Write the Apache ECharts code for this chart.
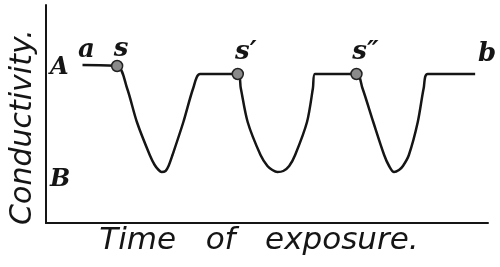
<!DOCTYPE html>
<html><head><meta charset="utf-8">
<script src="https://cdn.jsdelivr.net/npm/echarts@6/dist/echarts.min.js"></script>
<style>html,body{margin:0;padding:0;background:#fff}#c{width:500px;height:267px}</style>
</head><body><div id="c"></div>
<script>
// Time of exposure (arbitrary units) and conductivity (arbitrary units)
const time = [37,72,82,92,105,110,114,117,121,124,128,139,149,156,
  194,197,204,217,224,229,234,240,246,252,264,270,272,
  314,320,331,342,347,352,357,361,367,376,382,386,434];
const conductivity = [158,157,135,101,68,58,53,51,52,57,68,101,135,149,
  149,135,101,68,57,53,51,52,57,68,101,135,149,
  149,135,101,68,57,51,53,57,68,101,135,149,149];
// annotated points on the curve
const noteIndex = [0,1,14,27,39];
const noteText = ['a','s','s\u2032','s\u2033','b'];
const noteHasDot = [false,true,true,true,false];
// level marks on conductivity axis
const levelValues = [155,43];
const levelNames = ['A','B'];
const xTitle = 'Time   of   exposure.';
const yTitle = 'Conductivity.';

const noteOffsets = [[4,-15],[4,-17],[8,-22],[9,-22],[12,-20]];

const curve = time.map((t,i)=>[t, conductivity[i]]);
const notes = noteIndex.map((i,k)=>({
  value:[time[i],conductivity[i]],
  name: noteText[k],
  symbolSize: noteHasDot[k] ? 11 : 0,
  label:{offset:noteOffsets[k]}
}));

const chart = echarts.init(document.getElementById('c'),null,{renderer:'canvas'});
chart.setOption({
  animation:false,
  backgroundColor:'#fff',
  grid:{left:41,right:12,top:5,bottom:44},
  xAxis:{type:'value',min:0,max:447,
    axisLine:{show:true,lineStyle:{color:'#151515',width:2}},
    axisTick:{show:false},axisLabel:{show:false},splitLine:{show:false},
    name:xTitle,nameLocation:'middle',nameGap:2,
    nameTextStyle:{fontFamily:'DejaVu Sans',fontStyle:'italic',fontSize:31,color:'#151515',padding:[0,16,0,0]}},
  yAxis:{type:'value',min:0,max:218,
    axisLine:{show:true,lineStyle:{color:'#151515',width:2}},
    axisTick:{show:false},splitLine:{show:false},
    axisLabel:{show:true,inside:true,margin:4,customValues:levelValues,
      formatter:v=>levelNames[levelValues.indexOf(v)],
      fontFamily:'DejaVu Serif',fontStyle:'italic',fontWeight:'bold',fontSize:24,color:'#151515'},
    name:yTitle,nameLocation:'middle',nameGap:5,nameRotate:90,
    nameTextStyle:{fontFamily:'DejaVu Sans',fontStyle:'italic',fontSize:30,color:'#151515',padding:[0,26,0,0]}},
  series:[
    {type:'line',data:curve,showSymbol:false,symbol:'none',smooth:0.3,
     lineStyle:{color:'#151515',width:2.5},z:2},
    {type:'scatter',data:notes,symbol:'circle',
     itemStyle:{color:'#8a8a8a',borderColor:'#222',borderWidth:1.5,opacity:1},
     label:{show:true,formatter:'{b}',position:'inside',
       fontFamily:'DejaVu Serif',fontStyle:'italic',fontWeight:'bold',fontSize:26,
       color:'#151515',opacity:1,textBorderWidth:0},
     emphasis:{disabled:true},
     z:3}
  ]
});
</script></body></html>
